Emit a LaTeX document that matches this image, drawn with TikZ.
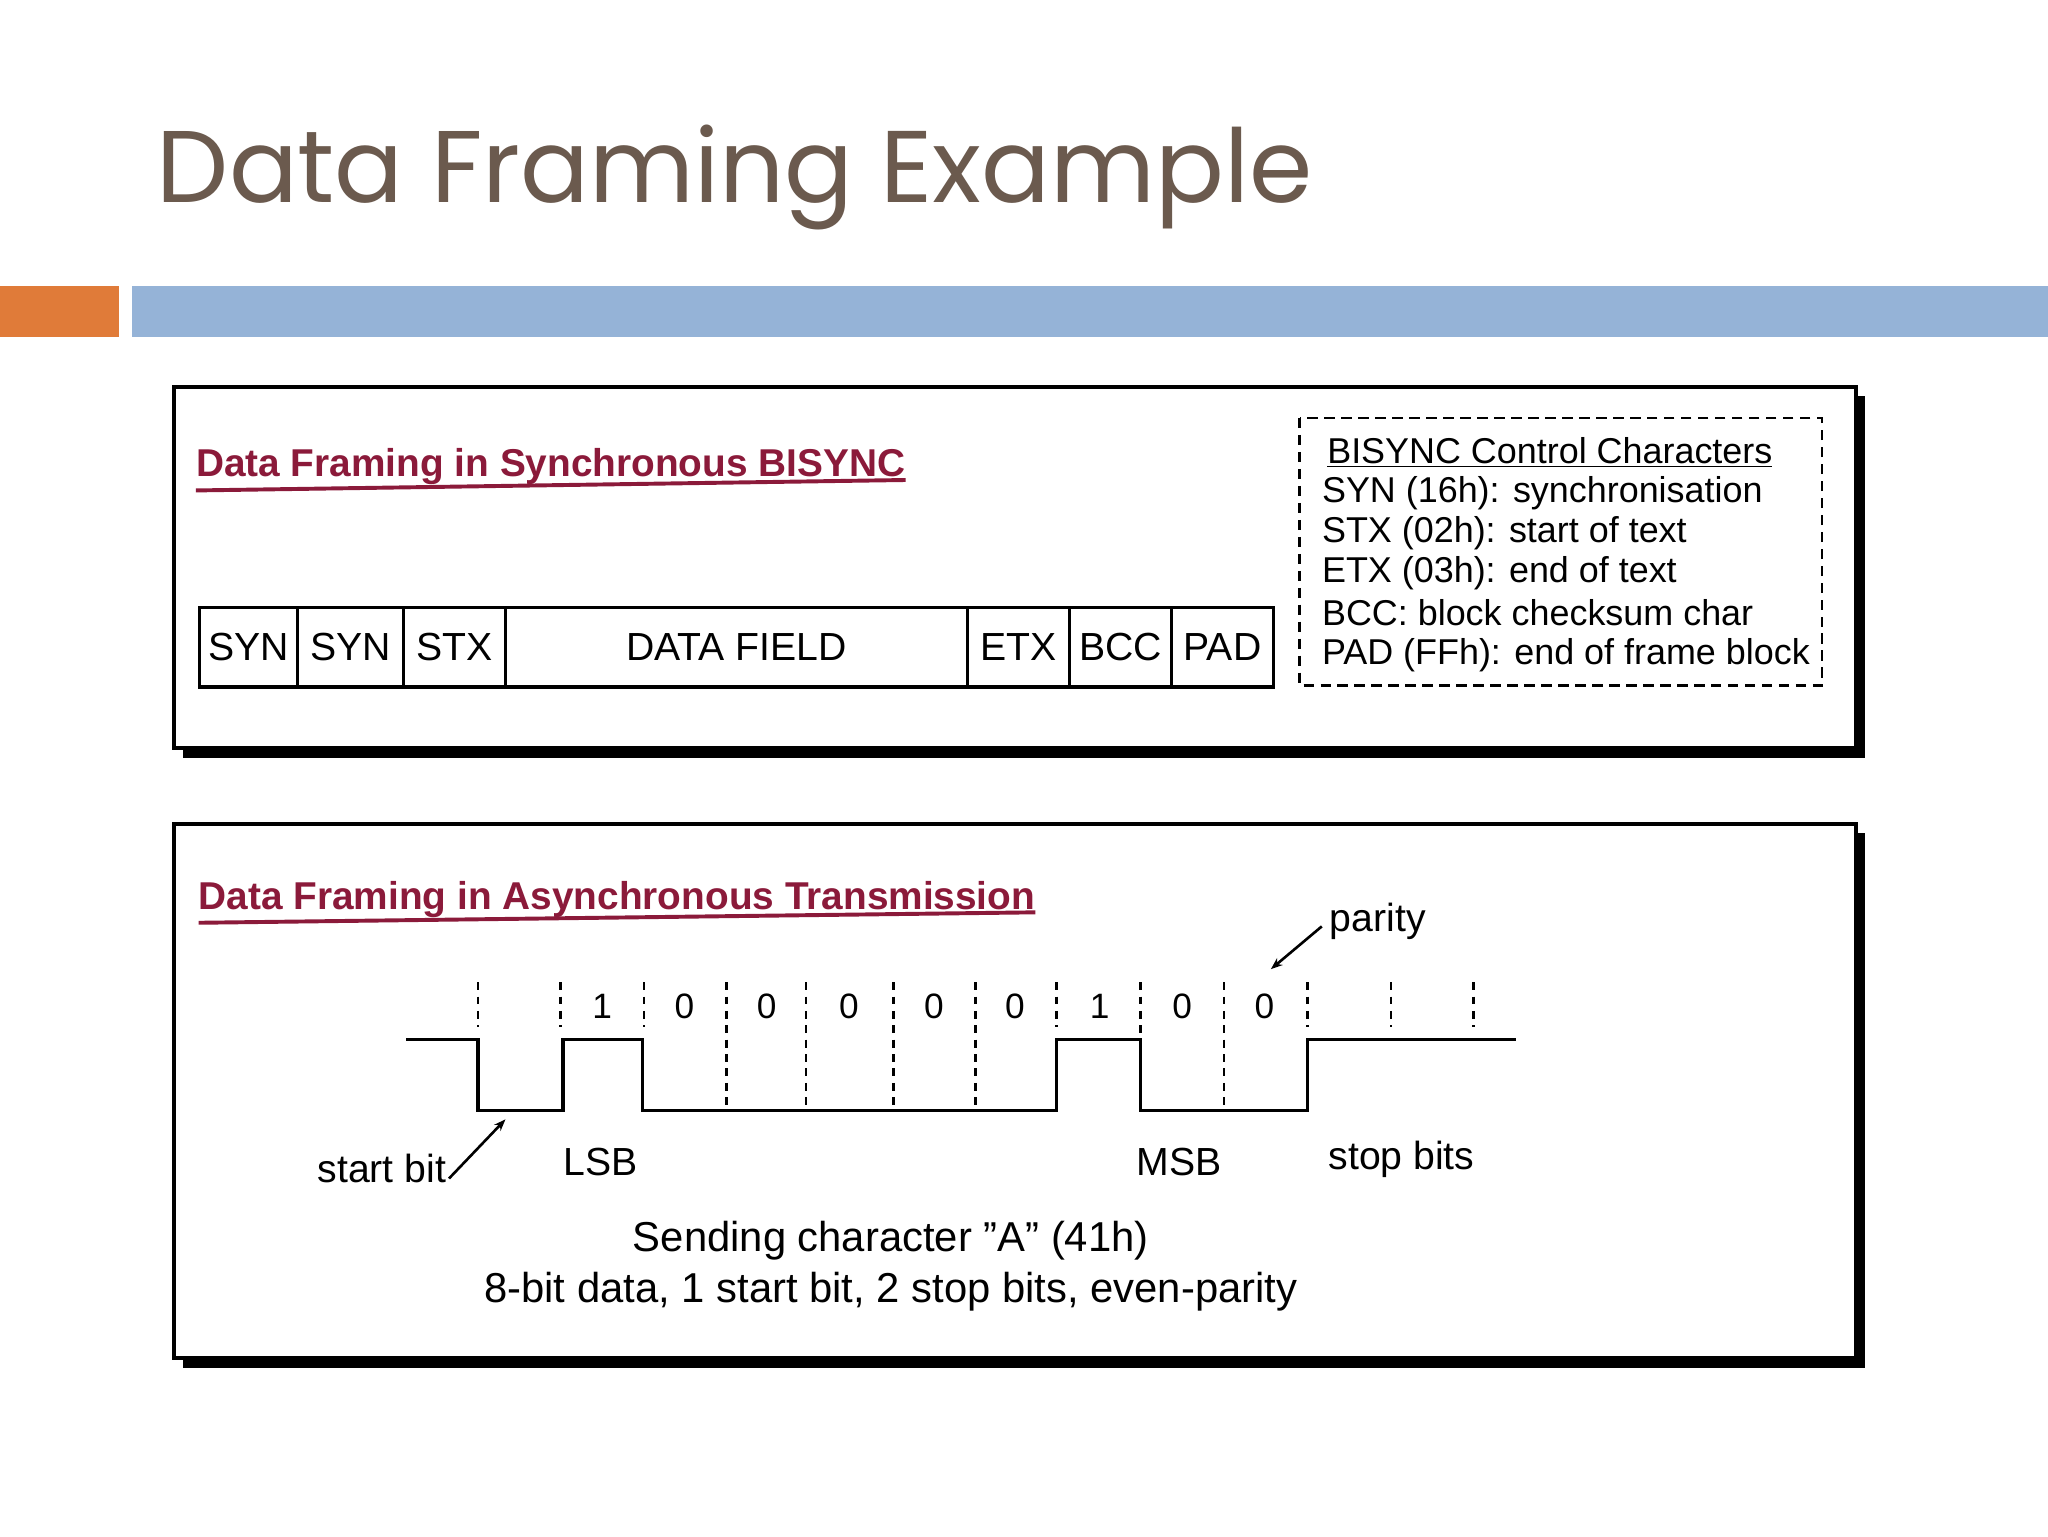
\documentclass[tikz,border=0pt]{standalone}
\usepackage{fontspec}
\setmainfont{Liberation Sans}
\newfontfamily\titlefont{Poppins}
\usetikzlibrary{arrows.meta}
\definecolor{titlebrown}{HTML}{6B5A4E}
\definecolor{barorange}{HTML}{E07B39}
\definecolor{barblue}{HTML}{95B3D7}
\definecolor{headred}{HTML}{8B1A3A}
\tikzset{
  panel/.style={draw=black,line width=3pt,fill=white},
  shadow/.style={fill=black},
  cell/.style={draw=black,line width=2.5pt,font=\fontsize{30}{34}\selectfont,inner sep=0pt},
  head/.style={anchor=base west,text=headred,font=\fontsize{29.7}{33}\selectfont\bfseries,inner sep=0pt},
  legend/.style={anchor=base west,font=\fontsize{27.5}{30}\selectfont,inner sep=0pt},
  lbl/.style={anchor=base,font=\fontsize{30}{33}\selectfont,inner sep=0pt},
  caption/.style={anchor=base,font=\fontsize{32}{35}\selectfont,inner sep=0pt},
  bit/.style={anchor=base,font=\fontsize{27}{30}\selectfont,inner sep=0pt},
  tick/.style={line width=2pt,dash pattern=on 6pt off 5pt},
  wave/.style={line width=2.5pt},
  pointer/.style={line width=2pt,-{Stealth[length=9pt]}}
}
\begin{document}
\begin{tikzpicture}[x=1pt,y=-1pt]
\useasboundingbox (0,0) rectangle (1568,1176);
\fill[white] (0,0) rectangle (1568,1176);
\node[anchor=base west,inner sep=0pt,text=titlebrown,font=\titlefont\fontsize{78}{86}\selectfont] (title) at (120,155) {Data Framing Example};
\fill[barorange] (0,219) rectangle (91,258);
\fill[barblue] (101,219) rectangle (1568,258);
% panel 1
\fill[shadow] (140,303) rectangle (1428,580);
\draw[panel] (133,296) rectangle (1421,573);
\node[head] (h1) at (150,365) {Data Framing in Synchronous BISYNC};
\draw[headred,line width=3pt] (h1.south west) ++(0,4) -- ([yshift=4pt]h1.south east);
\foreach \a/\b/\t/\n in {153/228/SYN/c1,228/309/SYN/c2,309/387/STX/c3,387/741/DATA FIELD/c4,741/819/ETX/c5,819/897/BCC/c6,897/975/PAD/c7}{
  \node[cell,minimum width={\b-\a},minimum height=61pt] (\n) at ({(\a+\b)/2},495.5) {\t};
}
\draw[line width=2pt,dash pattern=on 8pt off 5pt] (995,320) rectangle (1395,525);
\node[legend] (l0) at (1016,355) {\underline{BISYNC Control Characters}};
\node[legend] (l1) at (1012,385) {SYN (16h): synchronisation};
\node[legend] (l2) at (1012,415) {STX (02h): start of text};
\node[legend] (l3) at (1012,446) {ETX (03h): end of text};
\node[legend] (l4) at (1012,479) {BCC: block checksum char};
\node[legend] (l5) at (1012,509) {PAD (FFh): end of frame block};
% panel 2
\fill[shadow] (140,638) rectangle (1428,1047);
\draw[panel] (133,631) rectangle (1421,1040);
\node[head] (h2) at (152,696) {Data Framing in Asynchronous Transmission};
\draw[headred,line width=3pt] (h2.south west) ++(0,4) -- ([yshift=4pt]h2.south east);
\foreach \x in {366,429,493,809,1001,1065,1128} \draw[tick] (\x,752) -- (\x,786);
\foreach \x in {556,617,684,747,873,937} \draw[tick] (\x,752) -- (\x,850);
\draw[wave] (311,796) -- (366,796) -- (366,850) -- (431,850) -- (431,796) -- (492,796) -- (492,850) -- (809,850) -- (809,796) -- (873,796) -- (873,850) -- (1001,850) -- (1001,796) -- (1161,796);
\foreach \x/\b in {461/1,524/0,587/0,650/0,715/0,777/0,842/1,905/0,968/0}
  \node[bit] at (\x,780) {\b};
\node[lbl,anchor=base west] (par) at (1018,713) {parity};
\coordinate (parend) at (973,742);
\draw[pointer] (par.west) ++(-6,4) -- (parend);
\node[lbl,anchor=base west] (sb) at (243,905) {start bit};
\coordinate (sbend) at (387,857);
\draw[pointer] (sb.east) ++(2,8) -- (sbend);
\node[lbl] (lsb) at (460,900) {LSB};
\node[lbl] (msb) at (903,900) {MSB};
\node[lbl] (stop) at (1073,895) {stop bits};
\node[caption] (cap1) at (682,958) {Sending character \symbol{34}A\symbol{34} (41h)};
\node[caption] (cap2) at (682,997) {8-bit data, 1 start bit, 2 stop bits, even-parity};
\end{tikzpicture}
\end{document}
